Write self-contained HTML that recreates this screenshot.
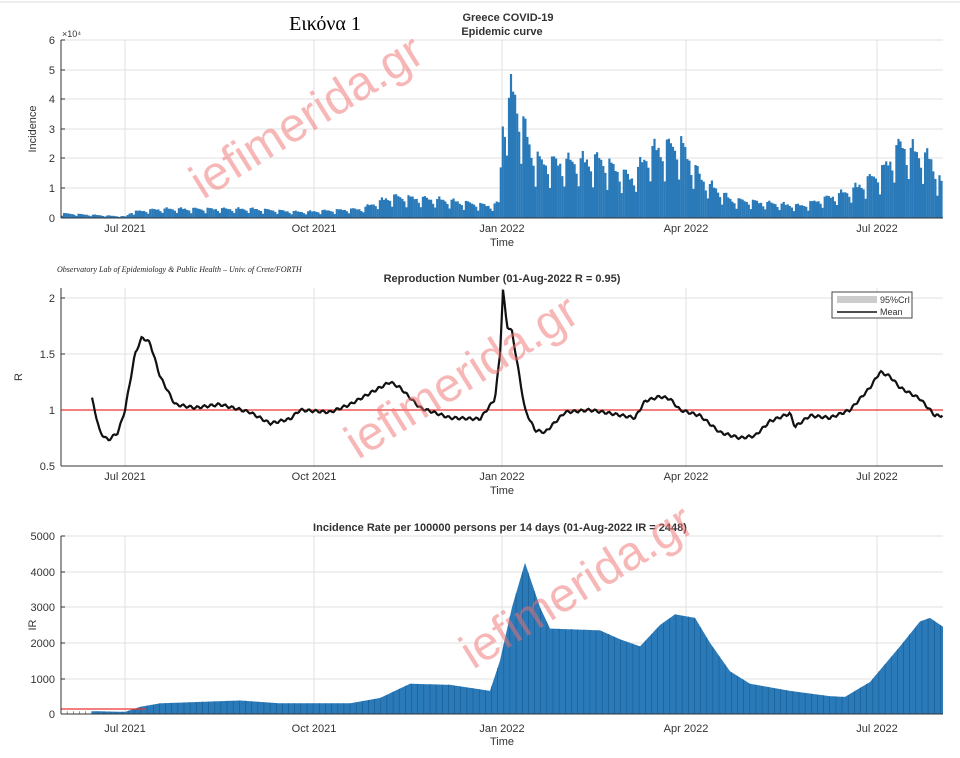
<!DOCTYPE html>
<html><head><meta charset="utf-8"><style>
html,body{margin:0;padding:0;background:#fff;width:960px;height:758px;overflow:hidden}
svg{display:block;font-family:"Liberation Sans",sans-serif}
</style></head><body>
<svg id="s" width="960" height="758" xmlns="http://www.w3.org/2000/svg">
<line x1="0" y1="2" x2="960" y2="2" stroke="#ddd"/>
<text x="325" y="30" font-family="Liberation Serif,DejaVu Serif,serif" font-size="20" text-anchor="middle">Εικόνα 1</text>
<text x="508" y="21" font-size="11" font-weight="bold" text-anchor="middle" fill="#333">Greece COVID-19</text>
<text x="502" y="35" font-size="11" font-weight="bold" text-anchor="middle" fill="#333">Epidemic curve</text>
<text x="57" y="272" font-size="8" font-style="italic" font-family="Liberation Serif,serif" fill="#222">Observatory Lab of Epidemiology &amp; Public Health – Univ. of Crete/FORTH</text>
<text x="502" y="282" font-size="11" font-weight="bold" text-anchor="middle" fill="#333">Reproduction Number (01-Aug-2022 R = 0.95)</text>
<text x="500" y="531" font-size="11" font-weight="bold" text-anchor="middle" fill="#333">Incidence Rate per 100000 persons per 14 days (01-Aug-2022 IR = 2448)</text>
<g id="g"></g>
</svg>
<script>
var g=document.getElementById('g'),h='';
function X(d){return 61+d*2.05;}
function interp(p,x){for(var i=0;i<p.length-1;i++){if(x>=p[i][0]&&x<=p[i+1][0]){var t=(x-p[i][0])/(p[i+1][0]-p[i][0]);return p[i][1]+t*(p[i+1][1]-p[i][1]);}}return x<p[0][0]?p[0][1]:p[p.length-1][1];}
var months=[[125,'Jul 2021'],[314,'Oct 2021'],[502,'Jan 2022'],[686,'Apr 2022'],[877,'Jul 2022']];
function axes(top,bot,yt,labY,timeY,ylabel,ylx){
 yt.forEach(function(t){h+='<line x1="61" x2="943" y1="'+t[0]+'" y2="'+t[0]+'" stroke="#e2e2e2"/>';
 h+='<text x="55" y="'+(t[0]+4)+'" font-size="11" text-anchor="end" fill="#333">'+t[1]+'</text>';
 h+='<line x1="61" x2="65" y1="'+t[0]+'" y2="'+t[0]+'" stroke="#333"/>';});
 months.forEach(function(m){h+='<line x1="'+m[0]+'" x2="'+m[0]+'" y1="'+top+'" y2="'+bot+'" stroke="#e2e2e2"/>';
 h+='<text x="'+m[0]+'" y="'+labY+'" font-size="11" text-anchor="middle" fill="#333">'+m[1]+'</text>';});
 h+='<text x="502" y="'+timeY+'" font-size="11" text-anchor="middle" fill="#333">Time</text>';
 var cy=(top+bot)/2;h+='<text x="'+ylx+'" y="'+cy+'" font-size="11" text-anchor="middle" fill="#333" transform="rotate(-90 '+ylx+' '+cy+')">'+ylabel+'</text>';
}
axes(40,218,[[40,6],[70,5],[99,4],[129,3],[158,2],[188,1],[218,0]],232,246,'Incidence',36);
h+='<text x="62" y="37" font-size="9" fill="#333">×10⁴</text>';
var e1=[[61,0.15],[125,0.05],[130,0.2],[160,0.3],[250,0.3],[300,0.2],[360,0.3],[390,0.7],[440,0.6],[490,0.4],[498,0.5],[502,3.3],[512,4.2],[520,3.3],[530,2.2],[540,1.8],[600,1.9],[630,1.3],[650,2.2],[680,2.4],[700,1.3],[730,0.6],[800,0.4],[850,0.9],[880,1.5],[900,2.4],[930,1.9],[943,0.9]];
var pat=[0.55,1.1,1.15,1.05,1.0,0.95,0.8];
var sc=29.7;
for(var d=0;d<430;d++){var x=X(d);if(x>943)break;var v=interp(e1,x)*pat[d%7]*(0.95+0.1*Math.abs(Math.sin(d*1.7)));
 h+='<rect x="'+x.toFixed(1)+'" y="'+(218-v*sc).toFixed(1)+'" width="2.2" height="'+(v*sc).toFixed(1)+'" fill="#2a7ab9"/>';}
h+='<line x1="61" x2="61" y1="40" y2="218" stroke="#333"/><line x1="61" x2="943" y1="218" y2="218" stroke="#333"/>';
axes(288,466,[[298,2],[354,1.5],[410,1],[466,0.5]],480,494,'R',22);
var r=[[92,1.1],[100,0.8],[108,0.73],[118,0.8],[125,1.0],[135,1.5],[142,1.65],[150,1.6],[160,1.3],[175,1.05],[195,1.02],[220,1.05],[250,0.98],[270,0.88],[290,0.92],[300,1.0],[330,0.98],[350,1.05],[370,1.15],[390,1.25],[400,1.2],[420,1.02],[450,0.93],[480,0.92],[495,1.1],[500,1.5],[503,2.07],[507,1.75],[512,1.7],[525,1.0],[535,0.82],[545,0.8],[565,0.98],[590,1.0],[610,0.97],[635,0.93],[645,1.08],[660,1.12],[670,1.1],[680,1.0],[700,0.95],[720,0.8],[740,0.75],[755,0.77],[770,0.9],[790,0.97],[795,0.85],[810,0.95],[830,0.93],[850,1.0],[870,1.2],[880,1.34],[890,1.3],[900,1.2],[920,1.1],[935,0.95],[943,0.95]];
var pts='';for(var x=92;x<=943;x+=1.5){var v=interp(r,x)+0.012*Math.sin(x*0.9);pts+=x.toFixed(1)+','+(410-(v-1)*112).toFixed(1)+' ';}
h+='<line x1="61" x2="943" y1="410" y2="410" stroke="#e33" stroke-width="1.2"/>';
h+='<polyline points="'+pts+'" fill="none" stroke="#111" stroke-width="2.2"/>';
h+='<line x1="61" x2="61" y1="288" y2="466" stroke="#333"/><line x1="61" x2="943" y1="466" y2="466" stroke="#333"/>';
h+='<rect x="832" y="292" width="80" height="26" fill="#fff" stroke="#444"/><rect x="837" y="296" width="40" height="7" fill="#ccc"/><line x1="837" x2="877" y1="312" y2="312" stroke="#111" stroke-width="1.5"/>';
h+='<text x="880" y="303" font-size="9" fill="#333">95%CrI</text><text x="880" y="315" font-size="9" fill="#333">Mean</text>';
axes(536,714,[[536,5000],[572,4000],[607,3000],[643,2000],[679,1000],[714,0]],732,745,'IR',36);
var ir=[[92,80],[125,60],[140,200],[160,300],[240,380],[280,300],[350,300],[380,450],[410,850],[450,820],[490,650],[500,1500],[512,3000],[525,4250],[540,3000],[550,2400],[600,2350],[620,2100],[640,1900],[660,2500],[675,2800],[695,2700],[710,2000],[730,1200],[750,850],[790,650],[830,500],[845,480],[870,900],[900,1900],[920,2600],[930,2700],[943,2450]];
var ap='92,714 ';for(var x=92;x<=943;x+=1){ap+=x+','+(714-interp(ir,x)*0.0356).toFixed(1)+' ';}ap+='943,714';
h+='<polygon points="'+ap+'" fill="#2a7ab9"/>';
for(var d=0;d<430;d+=3){var x=X(d);if(x>943)break;h+='<line x1="'+x.toFixed(1)+'" x2="'+x.toFixed(1)+'" y1="714" y2="'+(714-interp(ir,x)*0.0356).toFixed(1)+'" stroke="#1a5a8c" stroke-width="0.6"/>';}
h+='<line x1="61" x2="145" y1="709" y2="709" stroke="#e33" stroke-width="1.2"/>';
h+='<line x1="61" x2="61" y1="536" y2="714" stroke="#333"/><line x1="61" x2="943" y1="714" y2="714" stroke="#333"/>';
[[315,130],[470,390],[585,600]].forEach(function(w){h+='<text x="'+w[0]+'" y="'+w[1]+'" font-size="48" fill="#f07070" fill-opacity="0.5" text-anchor="middle" transform="rotate(-32 '+w[0]+' '+w[1]+')">iefimerida.gr</text>';});
g.innerHTML=h;
</script>
</body></html>
